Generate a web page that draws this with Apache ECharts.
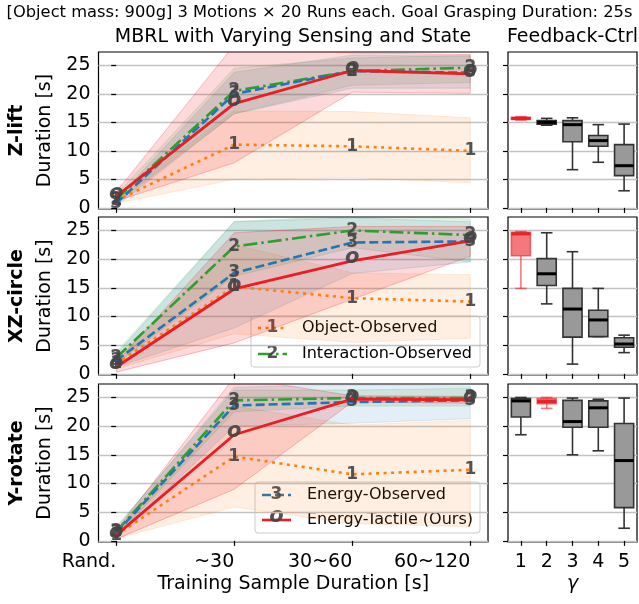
<!DOCTYPE html>
<html><head><meta charset="utf-8">
<script src="https://cdn.jsdelivr.net/npm/echarts@6/dist/echarts.min.js"></script>
<style>html,body{margin:0;padding:0;background:#fff}#c{width:639px;height:604px}</style>
</head><body><div id="c"></div>
<script>
// ---------- DATA ----------
const categories = ['Rand.', '~30', '30~60', '60~120'];
const gammaLabels = ['1', '2', '3', '4', '5'];
const yTicks = [0, 5, 10, 15, 20, 25];
const motions = ['Z-lift', 'XZ-circle', 'Y-rotate'];
const seriesNames = ['Object-Observed', 'Interaction-Observed', 'Energy-Observed', 'Energy-Tactile (Ours)'];
const markers = ['1', '2', '3', 'o'];

// Z-lift
const zliftObjMean = [1.3, 11.1, 10.8, 10.0];
const zliftObjLo   = [0.8, 5.0, 5.3, 4.4];
const zliftObjHi   = [1.9, 17.0, 16.9, 15.8];
const zliftIntMean = [1.5, 20.5, 24.0, 24.6];
const zliftIntLo   = [0.8, 16.5, 21.5, 22.0];
const zliftIntHi   = [2.3, 24.5, 26.3, 26.8];
const zliftEobMean = [0.8, 20.0, 24.0, 23.7];
const zliftEobLo   = [0.3, 16.5, 21.0, 21.0];
const zliftEobHi   = [1.5, 23.8, 26.8, 26.6];
const zliftTacMean = [2.0, 18.3, 24.1, 23.5];
const zliftTacLo   = [1.2, 7.9, 20.3, 20.1];
const zliftTacHi   = [2.8, 28.6, 27.2, 26.9];

// XZ-circle
const xzObjMean = [1.8, 15.2, 13.2, 12.6];
const xzObjLo   = [0.9, 7.0, 5.5, 6.2];
const xzObjHi   = [2.6, 22.5, 17.6, 17.3];
const xzIntMean = [2.8, 22.2, 25.0, 24.2];
const xzIntLo   = [1.8, 17.0, 22.0, 19.5];
const xzIntHi   = [3.8, 26.6, 27.5, 27.0];
const xzEobMean = [2.3, 17.6, 22.9, 23.1];
const xzEobLo   = [1.2, 8.0, 17.5, 19.5];
const xzEobHi   = [3.4, 26.5, 27.2, 26.5];
const xzTacMean = [1.2, 14.8, 19.7, 23.2];
const xzTacLo   = [0.3, 5.4, 13.0, 20.5];
const xzTacHi   = [2.0, 24.6, 25.7, 25.7];

// Y-rotate
const yrObjMean = [1.0, 14.7, 11.6, 12.4];
const yrObjLo   = [0.4, 5.9, 3.0, 2.5];
const yrObjHi   = [1.8, 23.5, 20.2, 21.0];
const yrIntMean = [1.6, 24.5, 24.9, 24.9];
const yrIntLo   = [0.8, 22.5, 23.5, 23.5];
const yrIntHi   = [2.5, 26.3, 26.3, 26.6];
const yrEobMean = [1.4, 23.6, 24.2, 24.5];
const yrEobLo   = [0.6, 20.0, 20.5, 21.3];
const yrEobHi   = [2.3, 26.8, 27.2, 27.0];
const yrTacMean = [1.0, 18.5, 24.7, 24.6];
const yrTacLo   = [0.3, 9.0, 24.2, 24.0];
const yrTacHi   = [1.8, 28.5, 25.3, 25.2];

// Feedback-Ctrl boxes: [whiskerLow, q1, median, q3, whiskerHigh] for gamma 1..5
const zliftBoxes = [[15.4, 15.5, 15.7, 15.9, 16.0], [14.5, 14.7, 15.0, 15.3, 15.7], [6.7, 11.6, 14.6, 15.3, 15.8], [8.0, 10.8, 11.8, 12.7, 14.6], [3.0, 5.65, 7.4, 11.1, 14.7]];
const xzBoxes    = [[14.9, 20.6, 24.4, 24.7, 24.8], [12.2, 15.4, 17.45, 20.1, 24.6], [1.7, 6.4, 11.3, 14.9, 21.3], [6.5, 6.5, 9.4, 11.1, 14.9], [3.7, 4.65, 5.2, 6.3, 6.75]];
const yrBoxes    = [[18.5, 21.6, 24.4, 24.8, 25.0], [23.1, 23.9, 24.3, 24.8, 25.0], [15.0, 19.8, 20.8, 24.5, 24.9], [15.7, 19.8, 23.2, 24.4, 24.7], [2.2, 5.8, 14.0, 20.45, 24.9]];
const bestGamma  = [1, 1, 2];

// ---------- STYLE ----------
const FONT = 'DejaVu Sans';
const AX = 19;
const lineColors = ['#ff7f0e', '#2ca02c', '#1f77b4', '#ec1c24'];
const bandFills = ['rgba(255,127,14,0.12)', 'rgba(44,160,44,0.12)', 'rgba(31,119,180,0.12)', 'rgba(236,28,36,0.17)'];
const bandStrokes = ['rgba(255,127,14,0.15)', 'rgba(44,160,44,0.15)', 'rgba(31,119,180,0.15)', 'rgba(236,28,36,0.25)'];
const lineDashes = [[3, 4.5], [14, 4, 2.5, 4], [9, 4], 'solid'];

const motionData = [
  [[zliftObjMean, zliftObjLo, zliftObjHi], [zliftIntMean, zliftIntLo, zliftIntHi], [zliftEobMean, zliftEobLo, zliftEobHi], [zliftTacMean, zliftTacLo, zliftTacHi]],
  [[xzObjMean, xzObjLo, xzObjHi], [xzIntMean, xzIntLo, xzIntHi], [xzEobMean, xzEobLo, xzEobHi], [xzTacMean, xzTacLo, xzTacHi]],
  [[yrObjMean, yrObjLo, yrObjHi], [yrIntMean, yrIntLo, yrIntHi], [yrEobMean, yrEobLo, yrEobHi], [yrTacMean, yrTacLo, yrTacHi]]
];
const motionBoxes = [zliftBoxes, xzBoxes, yrBoxes];

const rowTops = [52, 217, 384];
const rowHeights = [157, 158, 158];
const leftX = 98, leftW = 390, rightX = 508, rightW = 129;

const grids = [], xAxes = [], yAxes = [], series = [];
const xIdx = categories.map((c, i) => i);

function boxRender(params, api) {
  const i = api.value(0);
  const xc = api.coord([i, 0])[0];
  const bw = api.size([1, 0])[0] * 0.74;
  const y = v => api.coord([i, v])[1];
  const wlo = y(api.value(1)), q1 = y(api.value(2)), med = y(api.value(3)), q3 = y(api.value(4)), whi = y(api.value(5));
  const red = api.value(6) === 1;
  const edge = red ? 'rgba(236,30,36,0.6)' : '#333';
  const fill = red ? 'rgba(236,30,36,0.6)' : '#999';
  const medC = red ? 'rgba(230,20,26,0.85)' : '#000';
  const cap = bw / 2;
  return {
    type: 'group',
    children: [
      { type: 'line', shape: { x1: xc, y1: q1, x2: xc, y2: wlo }, style: { stroke: edge, lineWidth: 1.6 } },
      { type: 'line', shape: { x1: xc, y1: q3, x2: xc, y2: whi }, style: { stroke: edge, lineWidth: 1.6 } },
      { type: 'line', shape: { x1: xc - cap / 2 - 1, y1: wlo, x2: xc + cap / 2 + 1, y2: wlo }, style: { stroke: edge, lineWidth: 1.6 } },
      { type: 'line', shape: { x1: xc - cap / 2 - 1, y1: whi, x2: xc + cap / 2 + 1, y2: whi }, style: { stroke: edge, lineWidth: 1.6 } },
      { type: 'rect', shape: { x: xc - bw / 2, y: q3, width: bw, height: Math.max(q1 - q3, 1) }, style: { fill: fill, stroke: edge, lineWidth: 1.6 } },
      { type: 'line', shape: { x1: xc - bw / 2, y1: med, x2: xc + bw / 2, y2: med }, style: { stroke: medC, lineWidth: 3 } }
    ]
  };
}

motions.forEach((m, r) => {
  const last = r === motions.length - 1;
  const gL = r * 2, gR = r * 2 + 1;
  grids.push({ left: leftX, top: rowTops[r], width: leftW, height: rowHeights[r], show: true, borderColor: '#000', borderWidth: 1.2, backgroundColor: '#fff' });
  grids.push({ left: rightX, top: rowTops[r], width: rightW, height: rowHeights[r], show: true, borderColor: '#000', borderWidth: 1.2, backgroundColor: '#fff' });

  xAxes.push({
    gridIndex: gL, type: 'value', min: -0.15, max: 3.15,
    axisLine: { show: false },
    axisTick: { show: true, length: 5, customValues: xIdx, lineStyle: { color: '#000', width: 1.2 } },
    axisLabel: { show: last, customValues: xIdx, formatter: v => categories[Math.round(v)], fontSize: AX, color: '#000', fontFamily: FONT, margin: 11, align: 'right' },
    splitLine: { show: false },
    name: last ? 'Training Sample Duration [s]' : '', nameLocation: 'middle', nameGap: 33,
    nameTextStyle: { fontSize: AX, color: '#000', fontFamily: FONT }
  });
  xAxes.push({
    gridIndex: gR, type: 'category', data: gammaLabels, boundaryGap: true,
    axisLine: { show: false },
    axisTick: { show: true, length: 5, alignWithLabel: true, lineStyle: { color: '#000', width: 1.2 } },
    axisLabel: { show: last, fontSize: AX, color: '#000', fontFamily: FONT, margin: 11 },
    splitLine: { show: false },
    name: last ? 'γ' : '', nameLocation: 'middle', nameGap: 33,
    nameTextStyle: { fontSize: AX, color: '#000', fontFamily: FONT, fontStyle: 'italic' }
  });
  const yBase = {
    type: 'value', min: -0.2, max: 27.35,
    axisLine: { show: false },
    axisTick: { show: true, length: 5, customValues: yTicks, lineStyle: { color: '#000', width: 1.2 } },
    splitLine: { show: true, lineStyle: { color: '#c2c2c2', width: 1.3 } }
  };
  yAxes.push(Object.assign({}, yBase, {
    gridIndex: gL,
    axisLabel: { show: true, customValues: yTicks, fontSize: AX, color: '#000', fontFamily: FONT, margin: 8 },
    name: '{b|' + m + '}\n{n|Duration [s]}', nameLocation: 'middle', nameRotate: 90, nameGap: 39,
    nameTextStyle: {
      fontFamily: FONT, color: '#000',
      rich: {
        b: { fontSize: AX, fontWeight: 'bold', fontFamily: FONT, color: '#000', lineHeight: 28 },
        n: { fontSize: AX, fontFamily: FONT, color: '#000', lineHeight: 28 }
      }
    }
  }));
  yAxes.push(Object.assign({}, yBase, {
    gridIndex: gR,
    axisLabel: { show: false, customValues: yTicks }
  }));

  // bands
  motionData[r].forEach((sd, s) => {
    const lo = sd[1], hi = sd[2];
    series.push({
      type: 'custom', name: seriesNames[s] + ' band', xAxisIndex: gL, yAxisIndex: gL, clip: true,
      silent: true,
      data: xIdx.map((x, k) => [x, lo[k], hi[k]]),
      encode: { x: 0, y: [1, 2] },
      renderItem: (function (lo, hi, s) {
        return function (params, api) {
          if (params.dataIndex !== 0) return null;
          const pts = [];
          for (let k = 0; k < xIdx.length; k++) pts.push(api.coord([xIdx[k], hi[k]]));
          for (let k = xIdx.length - 1; k >= 0; k--) pts.push(api.coord([xIdx[k], lo[k]]));
          const cs = params.coordSys;
          return {
            type: 'polygon', shape: { points: pts },
            style: { fill: bandFills[s], stroke: bandStrokes[s], lineWidth: 1 },
            clipPath: { type: 'rect', shape: { x: cs.x, y: cs.y, width: cs.width, height: cs.height } }
          };
        };
      })(lo, hi, s),
      z: 1
    });
  });
  // lines
  motionData[r].forEach((sd, s) => {
    const mean = sd[0];
    const mk = markers[s];
    series.push({
      type: 'line', name: seriesNames[s], xAxisIndex: gL, yAxisIndex: gL,
      data: xIdx.map((x, k) => [x, mean[k]]),
      symbol: 'circle', symbolSize: 1, showSymbol: true,
      itemStyle: { color: 'rgba(0,0,0,0)' },
      lineStyle: { color: lineColors[s], width: s === 3 ? 2.8 : 2.6, type: lineDashes[s] },
      label: {
        show: true, position: 'inside', formatter: mk,
        fontSize: mk === 'o' ? 21 : 17, fontWeight: 'bold', fontStyle: mk === 'o' ? 'italic' : 'normal',
        color: 'rgba(68,68,68,0.92)', fontFamily: FONT, offset: mk === 'o' ? [0, -3] : [0, 0]
      },
      emphasis: { disabled: true },
      z: 3 + s
    });
  });
  // boxes
  series.push({
    type: 'custom', name: m + ' Feedback-Ctrl', xAxisIndex: gR, yAxisIndex: gR,
    data: motionBoxes[r].map((b, i) => [i, b[0], b[1], b[2], b[3], b[4], (i + 1) === bestGamma[r] ? 1 : 0]),
    encode: { x: 0, y: [1, 2, 3, 4, 5] },
    renderItem: boxRender,
    z: 3
  });
});

function legendGroup(x, y, w, h, rows) {
  const children = [
    { type: 'rect', shape: { x: x, y: y, width: w, height: h, r: 3 }, style: { fill: 'rgba(255,255,255,0.8)', stroke: '#cccccc', lineWidth: 1 } }
  ];
  rows.forEach(rw => {
    const s = rw.s;
    const ls = { stroke: lineColors[s], lineWidth: 2.6 };
    if (Array.isArray(lineDashes[s])) ls.lineDash = lineDashes[s];
    children.push({ type: 'line', shape: { x1: rw.lx, y1: rw.y, x2: rw.lx + 29, y2: rw.y }, style: ls });
    const mk = markers[s];
    children.push({ type: 'text', x: rw.lx + 14.5, y: rw.y + (mk === 'o' ? -3 : 0), style: { text: mk, font: (mk === 'o' ? 'italic bold 21px ' : 'bold 17px ') + FONT, fill: 'rgba(68,68,68,0.92)', align: 'center', verticalAlign: 'middle' } });
    children.push({ type: 'text', x: rw.tx, y: rw.y, style: { text: seriesNames[s], font: '16px ' + FONT, fill: '#000', align: 'left', verticalAlign: 'middle' } });
  });
  return { type: 'group', z: 100, children: children };
}

const option = {
  animation: false,
  backgroundColor: '#fff',
  grid: grids, xAxis: xAxes, yAxis: yAxes, series: series,
  graphic: [
    { type: 'text', x: 319.5, y: 13, z: 100, style: { text: '[Object mass: 900g] 3 Motions × 20 Runs each. Goal Grasping Duration: 25s', font: '16.3px ' + FONT, fill: '#000', align: 'center', verticalAlign: 'middle' } },
    { type: 'text', x: 293, y: 37, z: 100, style: { text: 'MBRL with Varying Sensing and State', font: AX + 'px ' + FONT, fill: '#000', align: 'center', verticalAlign: 'middle' } },
    { type: 'text', x: 572.5, y: 37, z: 100, style: { text: 'Feedback-Ctrl', font: AX + 'px ' + FONT, fill: '#000', align: 'center', verticalAlign: 'middle' } },
    legendGroup(251, 316, 229, 51, [{ s: 0, y: 328, lx: 258, tx: 302 }, { s: 1, y: 354, lx: 258, tx: 302 }]),
    legendGroup(255, 482, 225, 51, [{ s: 2, y: 495, lx: 262, tx: 307 }, { s: 3, y: 520, lx: 262, tx: 307 }])
  ]
};
echarts.init(document.getElementById('c'), null, { renderer: 'canvas' }).setOption(option);
</script>
</body></html>
